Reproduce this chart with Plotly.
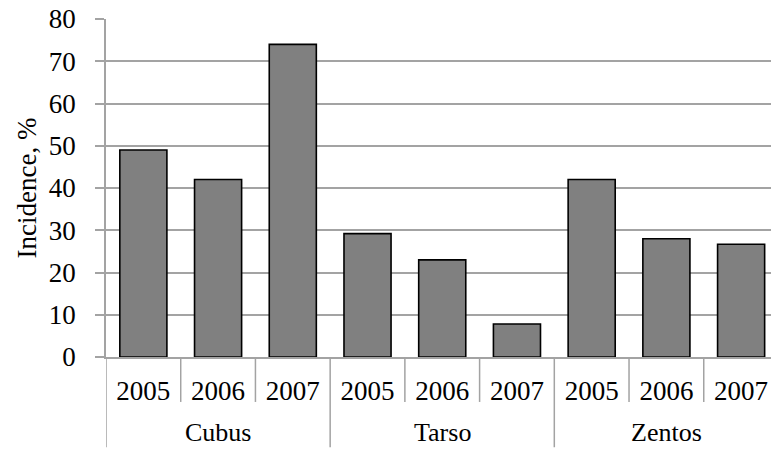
import plotly.graph_objects as go

# Incidence (%) by product and year
groups = ["Cubus", "Tarso", "Zentos"]
years = ["2005", "2006", "2007"]
cubus = [49, 42, 74]
tarso = [29.2, 23, 7.8]
zentos = [42, 28, 26.7]
y_ticks = [0, 10, 20, 30, 40, 50, 60, 70, 80]

values = cubus + tarso + zentos
year_labels = years * len(groups)
positions = list(range(len(values)))

FONT = "Liberation Serif"
SIZE = 27
GRID = "#a3a3a3"

fig = go.Figure(
    go.Bar(
        x=positions,
        y=values,
        width=0.63,
        marker=dict(color="#808080", line=dict(color="#000000", width=1.6)),
        hoverinfo="y",
    )
)

# separators of the two-level category axis
shapes = []
n_years = len(years)
for i in range(len(values) + 1):
    group_edge = i % n_years == 0
    shapes.append(dict(
        type="line", xref="x", yref="paper",
        x0=i - 0.5, x1=i - 0.5, y0=0, y1=-0.267 if group_edge else -0.133,
        line=dict(color=GRID, width=1.5),
    ))

annotations = []
for g, name in enumerate(groups):
    annotations.append(dict(
        x=g * n_years + (n_years - 1) / 2, y=-0.224, xref="x", yref="paper",
        text=name, showarrow=False, yanchor="middle",
        font=dict(family=FONT, size=26, color="#000000"),
    ))

fig.update_layout(
    width=771, height=450,
    margin=dict(l=106, r=0, t=19, b=93),
    paper_bgcolor="white", plot_bgcolor="white",
    showlegend=False,
    font=dict(family=FONT, size=SIZE, color="#000000"),
    shapes=shapes,
    annotations=annotations,
    xaxis=dict(
        range=[-0.5, 8.4],
        tickmode="array", tickvals=positions, ticktext=year_labels,
        ticks="", showgrid=False, zeroline=False,
        showline=True, linecolor=GRID, linewidth=1.5,
        ticklabelstandoff=9,
        tickfont=dict(family=FONT, size=SIZE, color="#000000"),
    ),
    yaxis=dict(
        range=[0, 80],
        tickmode="array", tickvals=y_ticks,
        ticks="outside", ticklen=9, tickwidth=1.5, tickcolor=GRID,
        showgrid=True, gridcolor=GRID, gridwidth=1.5,
        zeroline=False,
        showline=True, linecolor=GRID, linewidth=1.5,
        ticklabelstandoff=14,
        tickfont=dict(family=FONT, size=SIZE, color="#000000"),
        title=dict(text="Incidence, %", standoff=4,
                   font=dict(family=FONT, size=SIZE, color="#000000")),
    ),
)

fig.write_html("out.html")
